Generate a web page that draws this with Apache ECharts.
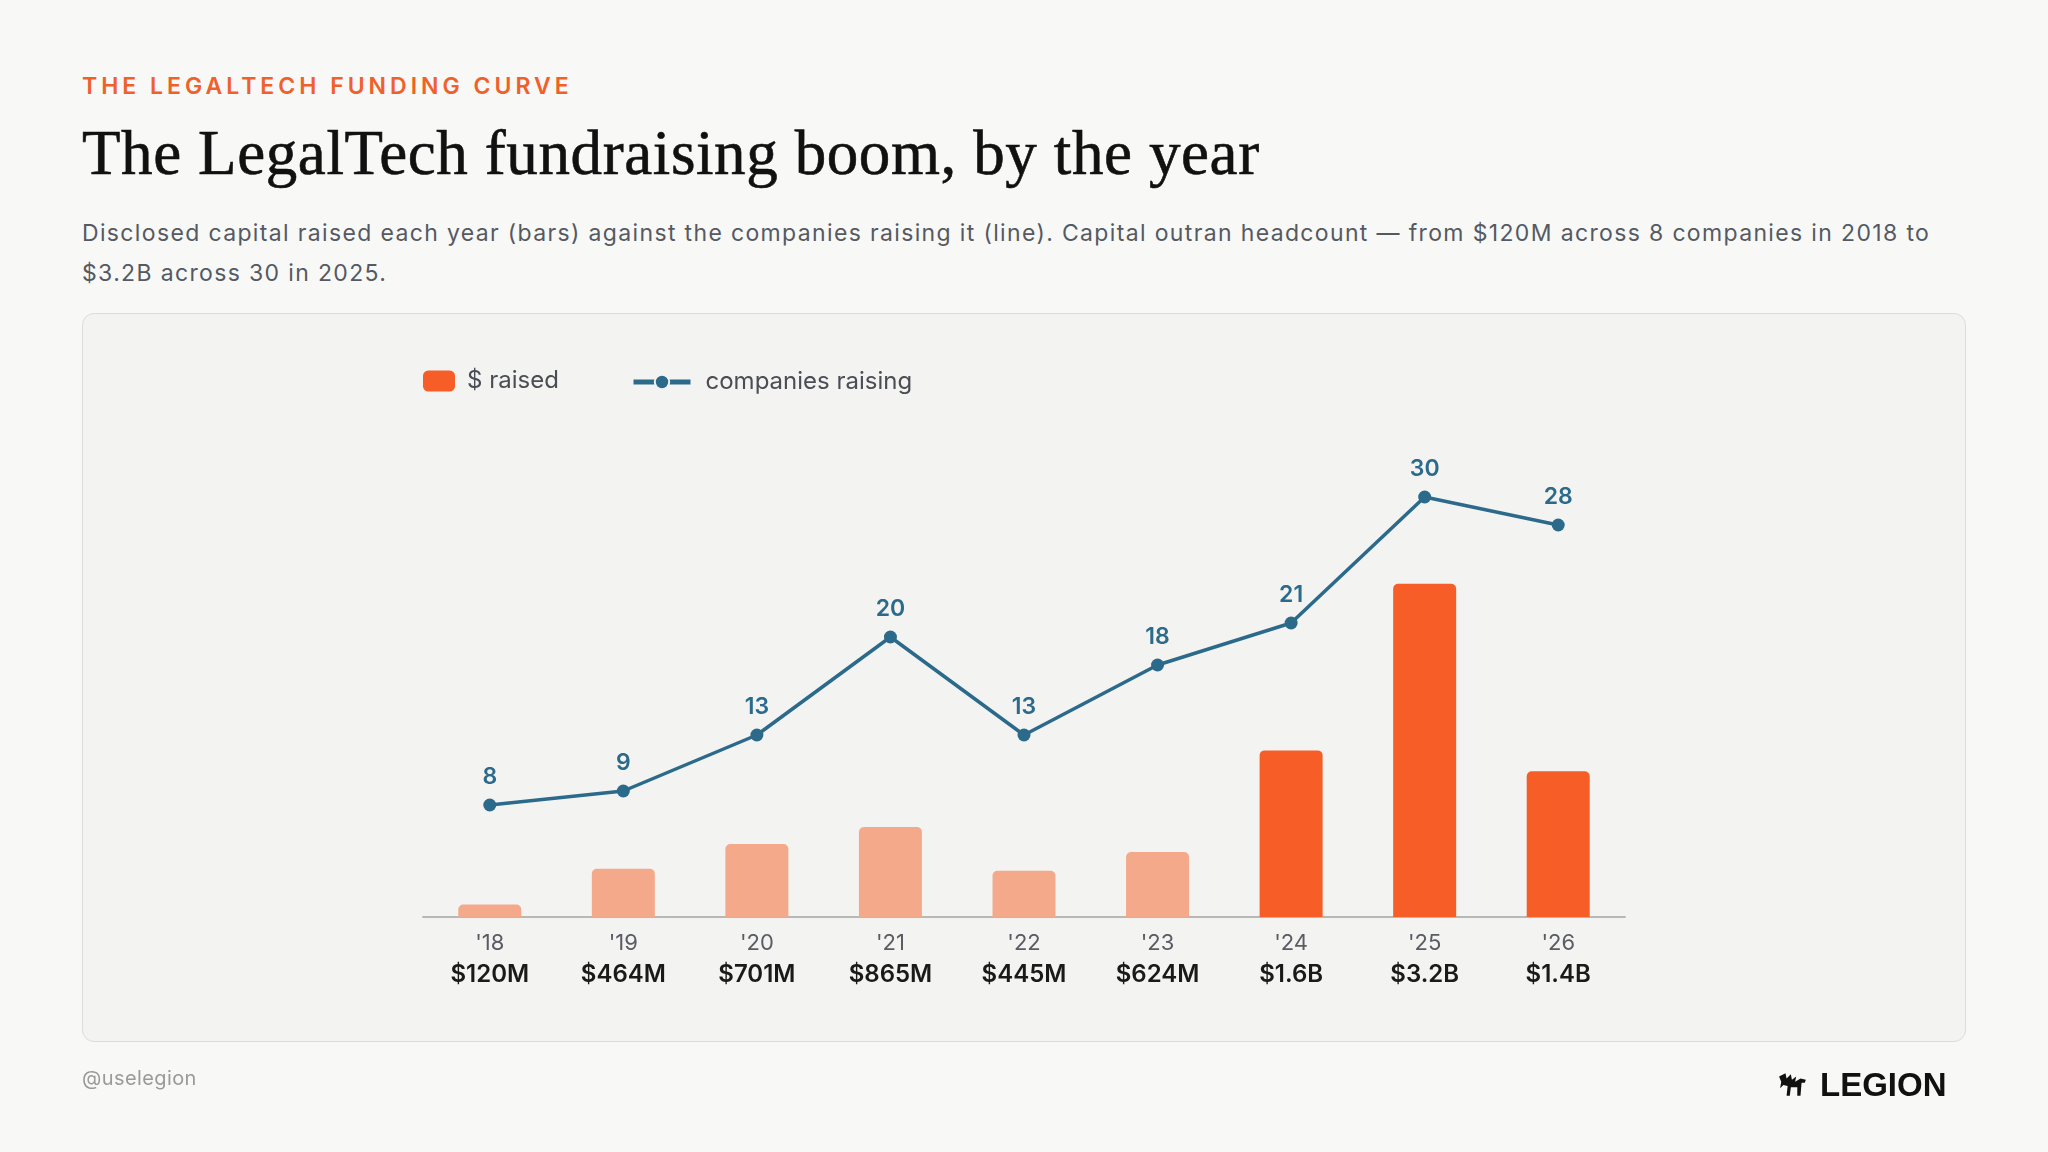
<!DOCTYPE html>
<html>
<head>
<meta charset="utf-8">
<script src="https://cdn.jsdelivr.net/npm/echarts@6/dist/echarts.min.js"></script>
<style>
  body { margin:0; background:#f8f8f7; }
  #page { position:relative; width:2048px; height:1152px; overflow:hidden; }
  .kicker { position:absolute; left:82px; top:75px; font:600 23px/23px Inter, sans-serif; letter-spacing:4px; color:#f0602a; white-space:nowrap; }
  .title { position:absolute; left:82px; top:122px; font:400 63px/63px "Liberation Serif", serif; letter-spacing:0.6px; -webkit-text-stroke:0.6px #111; color:#111; white-space:nowrap; }
  .sub { position:absolute; left:82px; top:213px; font:400 23px/40px Inter, sans-serif; letter-spacing:1.35px; color:#555a62; white-space:nowrap; }
  .panel { position:absolute; left:82px; top:313px; width:1882px; height:727px; background:#f3f3f1; border:1.5px solid #dcdcd8; border-radius:12px; }
  #chart { position:absolute; left:0; top:0; width:2048px; height:1152px; }
  .handle { position:absolute; left:82px; top:1068px; font:400 20px/20px Inter, sans-serif; letter-spacing:0.4px; color:#9a9a9a; }
  .logo { position:absolute; left:1778px; top:1068px; font:700 33px/33px "Liberation Sans", sans-serif; color:#111; white-space:nowrap; }
  .logo svg { position:absolute; left:0; top:5px; }
  .logo span { position:absolute; left:42px; top:0; }
</style>
</head>
<body>
<div id="page">
  <div class="kicker">THE LEGALTECH FUNDING CURVE</div>
  <div class="title">The LegalTech fundraising boom, by the year</div>
  <div class="sub">Disclosed capital raised each year (bars) against the companies raising it (line). Capital outran headcount — from $120M across 8 companies in 2018 to<br>$3.2B across 30 in 2025.</div>
  <div class="panel"></div>
  <div id="chart"></div>
  <div class="handle">@uselegion</div>
  <div class="logo">
    <svg width="30" height="24" viewBox="0 0 28 22"><path d="M1 3 L7 0 L8 5 L12 1 L13 6 L17 3 L16 8 L21 5 L26 6 L25 9 L22 9 L21 21 L18 21 L18 13 L12 13 L11 21 L8 21 L9 12 L5 11 L2 14 L3 8 Z" fill="#111"/></svg>
    <span>LEGION</span>
  </div>
</div>
<script>
// funding per year, $M
const years = ["'18", "'19", "'20", "'21", "'22", "'23", "'24", "'25", "'26"];
const capitalRaised = [120, 464, 701, 865, 445, 624, 1600, 3200, 1400];
const capitalLabels = ['$120M', '$464M', '$701M', '$865M', '$445M', '$624M', '$1.6B', '$3.2B', '$1.4B'];
const companiesRaising = [8, 9, 13, 20, 13, 18, 21, 30, 28];
const boomYears = ["'24", "'25", "'26"];

const orange = '#f75e27';
const lightOrange = '#f5a98b';
const blue = '#2c6a8b';

var myChart = echarts.init(document.getElementById('chart'));
var option = {
  animation: false,
  grid: { left: 423, right: 423, top: 413, bottom: 235 },
  legend: [
    {
      data: ['$ raised'],
      left: 423, top: 369, padding: 0,
      icon: 'roundRect',
      itemWidth: 32, itemHeight: 21,
      textStyle: { fontFamily: 'Inter', fontSize: 24, color: '#4b4d55', padding: [0, 0, 0, 7] }
    },
    {
      data: ['companies raising'],
      left: 631, top: 370, padding: 0,
      itemWidth: 57, itemHeight: 18,
      itemStyle: { borderColor: '#f3f3f1', borderWidth: 2 },
      lineStyle: { width: 5 },
      textStyle: { fontFamily: 'Inter', fontSize: 24, color: '#4b4d55', padding: [0, 0, 0, 10] }
    }
  ],
  xAxis: {
    type: 'category',
    data: years,
    axisLine: { lineStyle: { color: '#b8b8b6', width: 2 } },
    axisTick: { show: false },
    axisLabel: {
      margin: 11,
      formatter: function (value, idx) {
        return '{y|' + value + '}\n{v|' + capitalLabels[idx] + '}';
      },
      rich: {
        y: { fontFamily: 'Inter', fontSize: 22, color: '#5a5c63', lineHeight: 30 },
        v: { fontFamily: 'Inter', fontSize: 24, fontWeight: 600, color: '#1a1a1a', lineHeight: 34 }
      }
    }
  },
  yAxis: [
    { type: 'value', min: 0, max: 4840, show: false },
    { type: 'value', min: 0, max: 36, show: false }
  ],
  series: [
    {
      name: '$ raised',
      type: 'bar',
      barWidth: 63,
      itemStyle: { color: orange, borderRadius: [5, 5, 0, 0] },
      data: capitalRaised.map(function (v, i) {
        return { value: v, itemStyle: { color: boomYears.indexOf(years[i]) >= 0 ? orange : lightOrange } };
      })
    },
    {
      name: 'companies raising',
      type: 'line',
      yAxisIndex: 1,
      z: 5,
      symbol: 'circle',
      symbolSize: 13,
      lineStyle: { color: blue, width: 3.5 },
      itemStyle: { color: blue },
      label: {
        show: true, position: 'top', distance: 10,
        fontFamily: 'Inter', fontSize: 23, fontWeight: 600, color: blue
      },
      data: companiesRaising
    }
  ]
};
option && myChart.setOption(option);
</script>
</body>
</html>
